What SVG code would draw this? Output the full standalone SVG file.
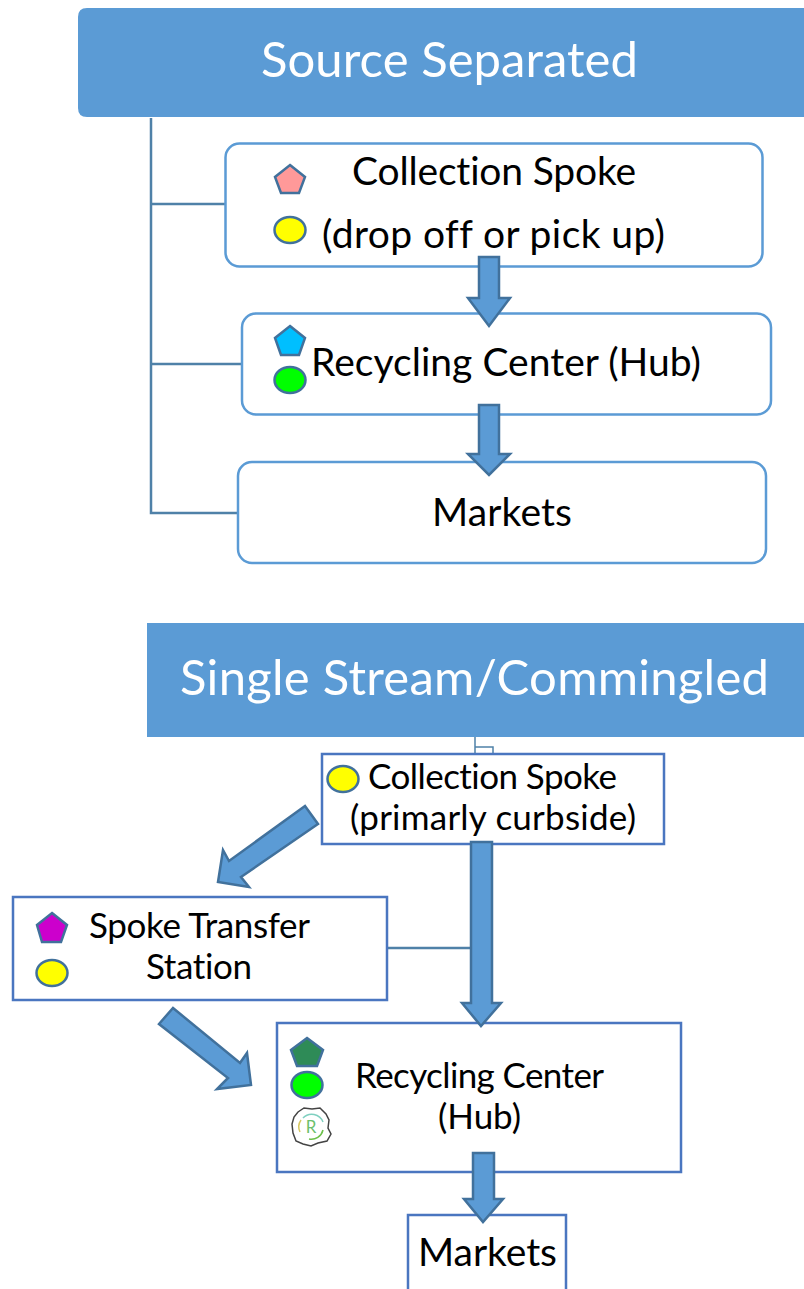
<svg xmlns="http://www.w3.org/2000/svg" width="804" height="1289" viewBox="0 0 804 1289">
<style>
text{font-family:"Lato","Carlito","Open Sans",sans-serif;fill:#000;text-anchor:middle;font-variant-ligatures:none}
.t{font-size:49px;fill:#fff}
.a{font-size:39px}
.b{font-size:35px}
.rr{fill:#fff;stroke:#5b9bd5;stroke-width:2.5}
.r{fill:#fff;stroke:#4a76c0;stroke-width:2.5}
.ar{fill:#5b9bd5;stroke:#41719c;stroke-width:2.5}
.ln{fill:none;stroke:#4f81a8;stroke-width:2.5}
.s{stroke:#41719c;stroke-width:2.5}
</style>
<g id="connectors">
<path class="ln" d="M151 118V513H238M151 204H225M151 364H242"/>
<path class="ln" d="M475 737V754M475 747H493V754" style="stroke-width:1.5"/>
<path class="ln" d="M387 948H472"/>
</g>
<g id="source-separated"><path d="M87 8H804V117H87Q78 117 78 108V17Q78 8 87 8Z" fill="#5b9bd5"/><text class="t" x="449.500" y="77" textLength="377" lengthAdjust="spacing">Source Separated</text></g>
<g id="collection-spoke-1"><rect class="rr" x="225.500" y="143.500" width="537" height="123" rx="14"/>
<path class="s" d="M290 165L305 177L299 193H281L275 177Z" fill="#ff9999"/><ellipse class="s" cx="290" cy="230" rx="15.500" ry="13" fill="#ff0"/>
<text class="a" x="494" y="185" textLength="284" lengthAdjust="spacing">Collection Spoke</text><text class="a" x="493.500" y="248" textLength="343" lengthAdjust="spacing">(drop off or pick up)</text></g>
<g id="recycling-center-1"><rect class="rr" x="242" y="313.500" width="529" height="101" rx="14"/>
<path class="s" d="M290 326L305 338L299 355H281L275 338Z" fill="#00bfff"/><ellipse class="s" cx="290" cy="380" rx="15.500" ry="13" fill="#0f0"/>
<text class="a" x="506" y="376" textLength="390" lengthAdjust="spacing">Recycling Center (Hub)</text></g>
<g id="markets-1"><rect class="rr" x="238" y="462" width="528" height="101" rx="14"/><text class="a" x="502" y="526" textLength="140" lengthAdjust="spacing">Markets</text></g>
<g id="single-stream"><rect x="147" y="623" width="657" height="114" fill="#5b9bd5"/><text class="t" x="474.500" y="695" textLength="589" lengthAdjust="spacing">Single Stream/Commingled</text></g>
<g id="collection-spoke-2"><rect class="r" x="322" y="754" width="342" height="90"/>
<ellipse class="s" cx="343" cy="779" rx="15.500" ry="13" fill="#ff0"/>
<text class="b" x="492.500" y="789" textLength="249" lengthAdjust="spacing">Collection Spoke</text><text class="b" x="493" y="830" textLength="286" lengthAdjust="spacing">(primarly curbside)</text></g>
<g id="spoke-transfer"><rect class="r" x="13" y="897" width="374" height="103"/>
<path class="s" d="M52 913L67 925L61 942H42L37 925Z" fill="#c0c"/><ellipse class="s" cx="52" cy="973" rx="15.500" ry="13" fill="#ff0"/>
<text class="b" x="199.500" y="938" textLength="221" lengthAdjust="spacing">Spoke Transfer</text><text class="b" x="199" y="979" textLength="106" lengthAdjust="spacing">Station</text></g>
<g id="recycling-center-2"><rect class="r" x="277" y="1023" width="404" height="149"/>
<path class="s" d="M307 1038L323 1050L317 1066H297L291 1050Z" fill="#2e8b57"/><ellipse class="s" cx="307" cy="1085" rx="15.500" ry="13" fill="#0f0"/>
<path d="M298 1112L304 1108L312 1109L320 1108L326 1114L329 1120L328 1128L331 1134L327 1141L318 1143L311 1146L303 1144L296 1141L293 1133L292 1124L294 1117Z" fill="#fff" stroke="#444" stroke-width="1.500"/>
<path d="M303 1118A12 12 0 0 1 323 1122" fill="none" stroke="#7fd0c0" stroke-width="1.500"/>
<path d="M323 1130A12 12 0 0 1 309 1139" fill="none" stroke="#6cc04a" stroke-width="1.500"/>
<path d="M300 1132A12 12 0 0 1 301 1120" fill="none" stroke="#d8c860" stroke-width="1.500"/>
<text x="311" y="1133" style="font-size:17px;fill:#6cbf6c">R</text>
<text class="b" x="479.500" y="1088" textLength="249" lengthAdjust="spacing">Recycling Center</text><text class="b" x="479.500" y="1129" textLength="83" lengthAdjust="spacing">(Hub)</text></g>
<g id="markets-2"><path class="r" d="M408 1289V1215H566V1289"/><text class="a" x="487.500" y="1266" textLength="139" lengthAdjust="spacing">Markets</text></g>
<g id="arrows">
<path class="ar" d="M479 257H499V298H510L489 326L468 298H479Z"/>
<path class="ar" d="M479 405H499V454H510L489 475L468 454H479Z"/>
<path class="ar" d="M471 842H492V1003H501L481 1026L462 1003H471Z"/>
<path class="ar" d="M473 1153H494V1199H503L483 1222L464 1199H473Z"/>
<path class="ar" d="M305 806L229 861L223 850L218 882L249 887L241 877L318 824Z"/>
<path class="ar" d="M173 1008L240 1063L247 1053L251 1085L217 1089L228 1078L159 1024Z"/>
</g>
</svg>
